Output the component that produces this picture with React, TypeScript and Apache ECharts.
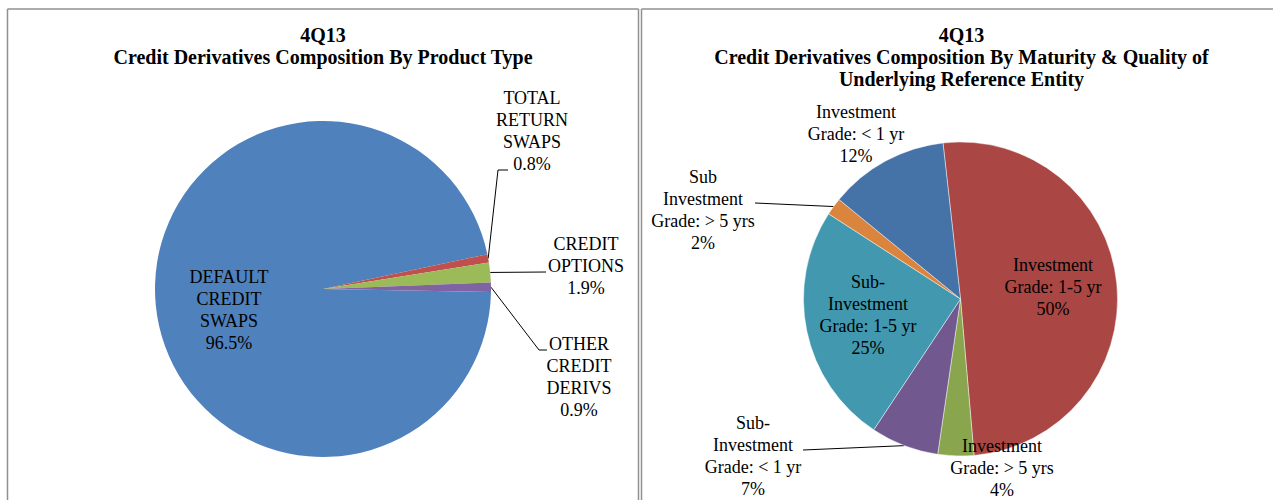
import React, { useEffect, useRef } from 'react';
import * as echarts from 'echarts';

// ---------- data ----------
const periodLabel = '4Q13';
const leftTitle = 'Credit Derivatives Composition By Product Type';
const rightTitle = 'Credit Derivatives Composition By Maturity & Quality of\nUnderlying Reference Entity';

const productTypes = ['DEFAULT\nCREDIT\nSWAPS', 'TOTAL\nRETURN\nSWAPS', 'CREDIT\nOPTIONS', 'OTHER\nCREDIT\nDERIVS'];
const productShares = [96.5, 0.8, 1.9, 0.9];

const maturityCategories = [
  'Investment\nGrade: 1-5 yr',
  'Investment\nGrade: > 5 yrs',
  'Sub-\nInvestment\nGrade: < 1 yr',
  'Sub-\nInvestment\nGrade: 1-5 yr',
  'Sub\nInvestment\nGrade: > 5 yrs',
  'Investment\nGrade: < 1 yr',
];
const maturityShares = [50.4, 3.7, 7.0, 24.8, 1.8, 12.3];

// ---------- styles / layout ----------
const productColors = ['#4F81BD', '#C0504D', '#9BBB59', '#8064A2'];
const maturityColors = ['#AA4643', '#89A54E', '#71588F', '#4198AF', '#DB843D', '#4572A7'];

const FONT = '"Liberation Serif", "Times New Roman", serif';
const LABEL_SIZE = 18;
const LINE_H = 22;

const leftCenter = [323, 289];
const leftRadius = 168;
const rightCenter = [960.5, 299];
const rightRadius = 157;

const leftLabelPos = [[229, 310], [532, 131], [586, 266], [579, 377]];
const leftLeaderTail: (number[][] | null)[] = [null, [[498, 170], [508, 170]], [[546, 272]], [[539, 350], [547, 350]]];

const rightLabelPos = [[1053, 287], [1002, 467.5], [753, 456], [868, 314.5], [703, 209.5], [856, 134]];
const rightLeaderTail: (number[][] | null)[] = [null, null, [[803, 450]], null, [[755, 203]], null];

function edgeAnchor(values: number[], idx: number, center: number[], r: number, startAngle: number) {
  const total = values.reduce((a, b) => a + b, 0);
  let before = 0;
  for (let i = 0; i < idx; i++) before += values[i];
  const midDeg = startAngle - ((before + values[idx] / 2) / total) * 360;
  const rad = (midDeg * Math.PI) / 180;
  return [center[0] + r * Math.cos(rad), center[1] - r * Math.sin(rad)];
}

export default function App() {
  const ref = useRef<HTMLDivElement>(null);

  useEffect(() => {
    if (!ref.current) return;
    const chart = echarts.init(ref.current, undefined, { renderer: 'svg' });
    const leftStart = -1;
    const rightStart = 96.4;

    const borderStyle = { stroke: '#909090', lineWidth: 1.5 };

    const makeLayout = (
      values: number[],
      pos: number[][],
      tails: (number[][] | null)[],
      center: number[],
      r: number,
      startAngle: number
    ) => (params: any) => {
      const i = params.dataIndex;
      const out: any = { x: pos[i][0], y: pos[i][1], align: 'center', verticalAlign: 'middle' };
      const tail = tails[i];
      if (tail) {
        const anchor =
          params.labelLinePoints && params.labelLinePoints[0]
            ? params.labelLinePoints[0]
            : edgeAnchor(values, i, center, r, startAngle);
        out.labelLinePoints = [anchor, ...tail];
      }
      return out;
    };

    const labelStyle = {
      show: true,
      position: 'outside',
      color: '#000',
      fontFamily: FONT,
      fontSize: LABEL_SIZE,
      lineHeight: LINE_H,
      align: 'center',
    };

    chart.setOption({
      animation: false,
      graphic: [
        // panel borders
        { type: 'line', shape: { x1: 7.5, y1: 9, x2: 638.5, y2: 9 }, style: borderStyle, silent: true },
        { type: 'line', shape: { x1: 7.5, y1: 9, x2: 7.5, y2: 500 }, style: borderStyle, silent: true },
        { type: 'line', shape: { x1: 638.5, y1: 9, x2: 638.5, y2: 500 }, style: borderStyle, silent: true },
        { type: 'line', shape: { x1: 641.5, y1: 9, x2: 1273, y2: 9 }, style: borderStyle, silent: true },
        { type: 'line', shape: { x1: 641.5, y1: 9, x2: 641.5, y2: 500 }, style: borderStyle, silent: true },
        // titles
        {
          type: 'text',
          x: 323,
          y: 46,
          style: {
            text: periodLabel + '\n' + leftTitle,
            fill: '#000',
            font: 'bold 20px ' + FONT,
            lineHeight: 22,
            align: 'center',
            verticalAlign: 'middle',
          },
        },
        {
          type: 'text',
          x: 961.5,
          y: 57,
          style: {
            text: periodLabel + '\n' + rightTitle,
            fill: '#000',
            font: 'bold 20px ' + FONT,
            lineHeight: 22,
            align: 'center',
            verticalAlign: 'middle',
          },
        },
      ],
      series: [
        {
          type: 'pie',
          center: leftCenter,
          radius: leftRadius,
          startAngle: leftStart,
          clockwise: true,
          avoidLabelOverlap: false,
          silent: true,
          label: { ...labelStyle, formatter: (p: any) => `${p.name}\n${p.value}%` },
          labelLine: { show: true, length: 10, length2: 10, lineStyle: { color: '#000', width: 1 } },
          labelLayout: makeLayout(productShares, leftLabelPos, leftLeaderTail, leftCenter, leftRadius, leftStart),
          data: productTypes.map((name, i) => ({
            name,
            value: productShares[i],
            itemStyle: { color: productColors[i] },
            labelLine: { show: !!leftLeaderTail[i] },
          })),
        },
        {
          type: 'pie',
          center: rightCenter,
          radius: rightRadius,
          startAngle: rightStart,
          clockwise: true,
          avoidLabelOverlap: false,
          silent: true,
          percentPrecision: 0,
          itemStyle: { borderColor: 'rgba(255,255,255,0.6)', borderWidth: 0.75 },
          label: { ...labelStyle, formatter: (p: any) => `${p.name}\n${p.percent}%` },
          labelLine: { show: true, length: 10, length2: 10, lineStyle: { color: '#000', width: 1 } },
          labelLayout: makeLayout(maturityShares, rightLabelPos, rightLeaderTail, rightCenter, rightRadius, rightStart),
          data: maturityCategories.map((name, i) => ({
            name,
            value: maturityShares[i],
            itemStyle: { color: maturityColors[i] },
            labelLine: { show: !!rightLeaderTail[i] },
          })),
        },
      ],
    });

    return () => chart.dispose();
  }, []);

  return (
    <div
      ref={ref}
      style={{ position: 'absolute', left: 0, top: 0, width: 1273, height: 500, background: '#fff' }}
    />
  );
}
